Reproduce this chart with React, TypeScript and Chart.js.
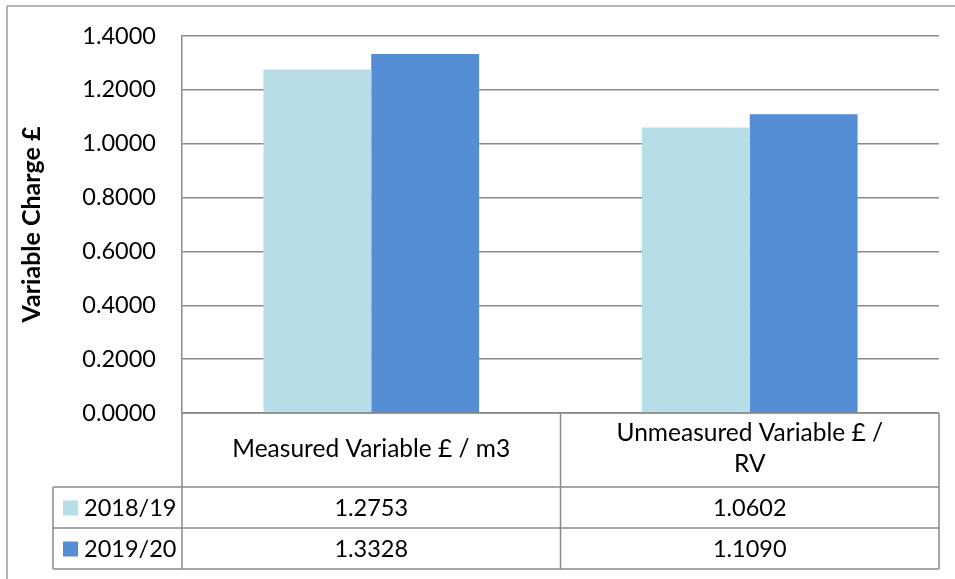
import React, { useEffect, useRef } from "react";
import { Chart, registerables } from "chart.js";

Chart.register(...registerables);

// ---- data ----
const categories: string[][] = [["Measured Variable £ / m3"], ["Unmeasured Variable £ /", "RV"]];
const seriesNames: string[] = ["2018/19", "2019/20"];
const values2018: number[] = [1.2753, 1.0602];
const values2019: number[] = [1.3328, 1.109];
const seriesValues: number[][] = [values2018, values2019];
const seriesColors: string[] = ["#B7DDE8", "#558ED5"];
const yMin = 0;
const yMax = 1.4;
const yStep = 0.2;
const yTitle = "Variable Charge £";

const FONT = "Lato, 'Open Sans', sans-serif";
const FONT_SIZE = 23.5;
const HEADER_SIZE = 24.5;
const LINE = "#8a8a8a";

const tablePlugin = {
  id: "dataTable",
  afterDraw(chart: any) {
    const ctx: CanvasRenderingContext2D = chart.ctx;
    const { left, right, bottom } = chart.chartArea;
    const xs = chart.scales.x;
    const n = categories.length;
    const colW = (right - left) / n;
    const headerBottom = bottom + 74;
    const rowH = 41;
    const legendLeft = 53;
    const tableBottom = headerBottom + rowH * seriesNames.length;

    ctx.save();
    ctx.strokeStyle = LINE;
    ctx.lineWidth = 1.5;
    const hline = (y: number, x1: number, x2: number) => {
      ctx.beginPath();
      ctx.moveTo(x1, y);
      ctx.lineTo(x2, y);
      ctx.stroke();
    };
    const vline = (x: number, y1: number, y2: number) => {
      ctx.beginPath();
      ctx.moveTo(x, y1);
      ctx.lineTo(x, y2);
      ctx.stroke();
    };
    hline(bottom, left, right);
    for (let r = 0; r <= seriesNames.length; r++) {
      hline(headerBottom + r * rowH, legendLeft, right);
    }
    vline(legendLeft, headerBottom, tableBottom);
    for (let i = 0; i <= n; i++) {
      const x = i < n ? xs.getPixelForValue(i) - colW / 2 : xs.getPixelForValue(n - 1) + colW / 2;
      vline(x, bottom, tableBottom);
    }

    // outer chart frame
    ctx.strokeStyle = "#9a9a9a";
    ctx.lineWidth = 1.5;
    vline(7, 6, chart.height);
    hline(6, 7, chart.width);

    // header labels
    ctx.fillStyle = "#000";
    ctx.font = `${HEADER_SIZE}px ${FONT}`;
    ctx.textAlign = "center";
    ctx.textBaseline = "middle";
    const lineH = 31;
    categories.forEach((lines, i) => {
      const cx = xs.getPixelForValue(i);
      const cy = (bottom + headerBottom) / 2 - 1;
      const startY = cy - ((lines.length - 1) * lineH) / 2;
      lines.forEach((t, k) => ctx.fillText(t, cx, startY + k * lineH));
    });

    // rows
    ctx.font = `${FONT_SIZE}px ${FONT}`;
    seriesNames.forEach((name, r) => {
      const cy = headerBottom + r * rowH + rowH / 2;
      ctx.fillStyle = seriesColors[r];
      ctx.fillRect(legendLeft + 10, cy - 7, 15, 15);
      ctx.fillStyle = "#000";
      ctx.textAlign = "left";
      ctx.fillText(name, legendLeft + 31, cy + 1);
      ctx.textAlign = "center";
      seriesValues[r].forEach((v, i) => {
        ctx.fillText(v.toFixed(4), xs.getPixelForValue(i), cy + 1);
      });
    });
    ctx.restore();
  },
};

export default function App() {
  const ref = useRef<HTMLCanvasElement | null>(null);

  useEffect(() => {
    if (!ref.current) return;
    const chart = new Chart(ref.current, {
      type: "bar",
      data: {
        labels: categories,
        datasets: seriesNames.map((name, i) => ({
          label: name,
          data: seriesValues[i],
          backgroundColor: seriesColors[i],
          borderWidth: 0,
          categoryPercentage: 0.57,
          barPercentage: 1.0,
        })),
      },
      options: {
        responsive: false,
        animation: false,
        layout: { padding: { left: 0, top: 36, right: 16, bottom: 166 } },
        plugins: {
          legend: { display: false },
          tooltip: { enabled: false },
          title: { display: false },
        },
        scales: {
          x: {
            display: false,
            grid: { display: false },
          },
          y: {
            min: yMin,
            max: yMax,
            afterFit: (scale: any) => {
              scale.width = 182;
            },
            ticks: {
              stepSize: yStep,
              padding: 0,
              color: "#000",
              font: { family: FONT, size: FONT_SIZE },
              callback: (v: any) => Number(v).toFixed(4),
            },
            grid: {
              color: LINE,
              lineWidth: 1.5,
              drawTicks: true,
              tickLength: 26,
              tickColor: "rgba(0,0,0,0)",
            },
            border: { display: true, color: LINE, width: 1.5 },
            title: {
              display: true,
              text: yTitle,
              color: "#000",
              font: { family: FONT, size: 25, weight: "bold" },
              padding: { top: 17, bottom: 0 },
            },
          },
        },
      },
      plugins: [tablePlugin],
    });
    return () => chart.destroy();
  }, []);

  return (
    <div style={{ position: "absolute", left: 0, top: 0, width: 955, height: 579, background: "#fff" }}>
      <canvas ref={ref} width={955} height={579} style={{ display: "block" }} />
    </div>
  );
}
